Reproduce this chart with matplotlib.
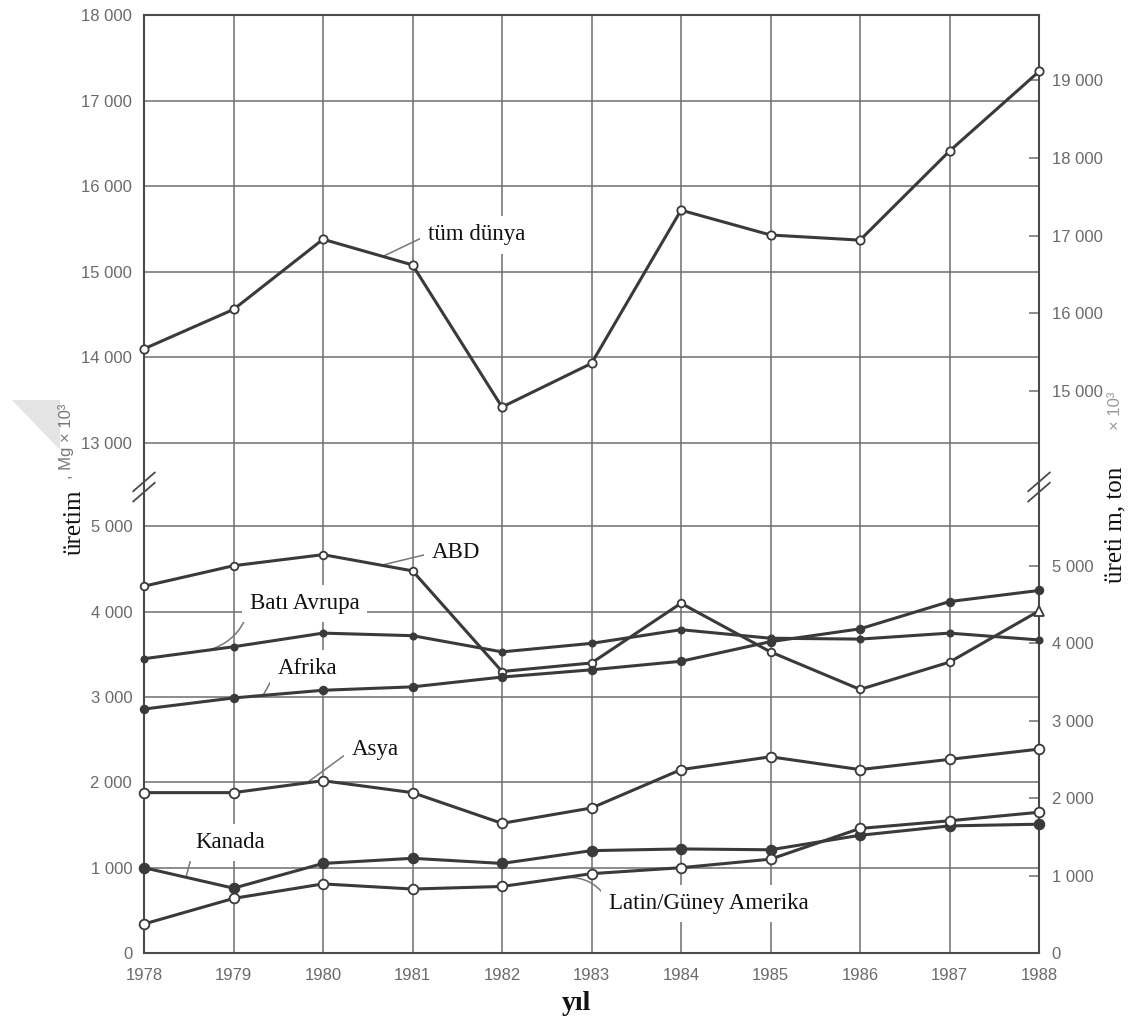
import numpy as np
import matplotlib
matplotlib.use("Agg")
import matplotlib.pyplot as plt
from matplotlib.patches import Polygon

# production, Mg x 10^3
years = np.arange(1978, 1989)
world = [14100, 14560, 15380, 15080, 13420, 13930, 15720, 15430, 15370, 16410, 17340]
usa = [4300, 4540, 4670, 4480, 3300, 3400, 4100, 3530, 3090, 3410, 4010]
w_europe = [3450, 3590, 3750, 3720, 3530, 3630, 3790, 3690, 3680, 3750, 3670]
africa = [2860, 2990, 3080, 3120, 3235, 3320, 3420, 3650, 3800, 4120, 4250]
asia = [1880, 1880, 2020, 1880, 1520, 1700, 2150, 2300, 2150, 2270, 2390]
canada = [1000, 760, 1050, 1110, 1050, 1200, 1220, 1210, 1380, 1490, 1510]
latin = [340, 640, 810, 750, 780, 930, 1000, 1100, 1460, 1550, 1650]

left_top_ticks = [13000, 14000, 15000, 16000, 17000, 18000]
left_bot_ticks = [0, 1000, 2000, 3000, 4000, 5000]
right_top_ticks = [15000, 16000, 17000, 18000, 19000]
right_bot_ticks = [0, 1000, 2000, 3000, 4000, 5000]
MG_TO_TON = 1.10231

SANS = ['Liberation Sans Narrow', 'Liberation Sans', 'DejaVu Sans']
SERIF = ['Liberation Serif', 'DejaVu Serif']
LINE = '#3a3a3a'
GRID = '#6e6e6e'
TICKC = '#6a6a6a'

W, H = 1129, 1029
fig = plt.figure(figsize=(W / 100, H / 100), dpi=100)
fig.patch.set_facecolor('white')
L, R = 144 / W, 1039 / W
ax_top = fig.add_axes([L, 1 - 487 / H, R - L, (487 - 15) / H])
ax_bot = fig.add_axes([L, 1 - 953 / H, R - L, (953 - 487) / H])
ax_top.set_ylim(12486, 18000)
ax_bot.set_ylim(0, 5463)


def fmt(v):
    return f"{int(round(v)):,}".replace(",", " ")


for ax, lt, rt in [(ax_top, left_top_ticks, right_top_ticks),
                   (ax_bot, left_bot_ticks, right_bot_ticks)]:
    ax.set_xlim(1978, 1988)
    ax.set_xticks(years)
    ax.set_yticks(lt)
    ax.set_yticklabels([fmt(v) for v in lt], family=SANS, fontsize=12, color=TICKC)
    ax.grid(True, color=GRID, lw=1.1)
    ax.set_axisbelow(True)
    ax.tick_params(axis='y', length=0, pad=8.5)
    ax.tick_params(axis='x', length=0, pad=11)
    for s in ax.spines.values():
        s.set_color('#4a4a4a')
        s.set_linewidth(1.5)
    sec = ax.secondary_yaxis('right', functions=(lambda v: v * MG_TO_TON,
                                                 lambda v: v / MG_TO_TON))
    sec.set_yticks(rt)
    sec.set_yticklabels([fmt(v) for v in rt], family=SANS, fontsize=12, color=TICKC)
    sec.tick_params(direction='in', length=7, width=1.1, color=GRID, pad=9)
    sec.spines['right'].set_visible(False)

ax_top.spines['bottom'].set_visible(False)
ax_bot.spines['top'].set_visible(False)
ax_top.tick_params(axis='x', labelbottom=False)
ax_bot.set_xticklabels([str(y) for y in years], family=SANS, fontsize=12, color=TICKC)


def series(ax, vals, marker, ms, filled, last_marker=None):
    kw = dict(color=LINE, lw=2.2, marker=marker, ms=ms, mec=LINE, mew=1.3,
              mfc=LINE if filled else 'white', clip_on=False, zorder=5)
    if last_marker:
        ax.plot(years, vals, markevery=list(range(len(years) - 1)), **kw)
        kw.update(marker=last_marker, ms=ms + 1.5, lw=0)
        ax.plot(years[-1:], vals[-1:], **kw)
    else:
        ax.plot(years, vals, **kw)


series(ax_top, world, 'o', 6, False)
series(ax_bot, usa, 'o', 5.5, False, last_marker='^')
series(ax_bot, w_europe, 'o', 4.5, True)
series(ax_bot, africa, 'o', 5.5, True)
series(ax_bot, asia, 'o', 7, False)
series(ax_bot, canada, 'o', 7, True)
series(ax_bot, latin, 'o', 7, False)

# labels with leader lines
box = dict(boxstyle='square,pad=0.35', fc='white', ec='none')
notes = [
    (ax_top, 'tüm dünya', (1980.67, 15180), (1981.17, 15430), 'arc3,rad=0'),
    (ax_bot, 'ABD', (1980.65, 4545), (1981.22, 4690), 'arc3,rad=0'),
    (ax_bot, 'Batı Avrupa', (1978.74, 3555), (1979.18, 4100), 'arc3,rad=-0.3'),
    (ax_bot, 'Afrika', (1979.33, 3020), (1979.5, 3340), 'arc3,rad=0'),
    (ax_bot, 'Asya', (1979.82, 1995), (1980.32, 2380), 'arc3,rad=0'),
    (ax_bot, 'Kanada', (1978.47, 890), (1978.57, 1290), 'arc3,rad=0'),
    (ax_bot, 'Latin/Güney Amerika', (1982.67, 880), (1983.2, 580), 'arc3,rad=0.35'),
]
for ax, txt, xy, xyt, cs in notes:
    ax.annotate(txt, xy=xy, xytext=xyt, ha='left', va='center',
                family=SERIF, fontsize=16.5, color='#111111', bbox=box, zorder=3,
                arrowprops=dict(arrowstyle='-', color='#777777', lw=1.1,
                                relpos=(0, 0.5), shrinkA=0, shrinkB=0,
                                connectionstyle=cs))

# break marks on both spines
for xa in (0, 1):
    for off in (-0.011, 0.011):
        ax_bot.plot([xa - 0.012, xa + 0.012], [1 + off - 0.02, 1 + off + 0.02],
                    transform=ax_bot.transAxes, color='#4a4a4a', lw=1.3,
                    clip_on=False, zorder=6)

# axis titles
fig.text(75 / W, 1 - 522 / H, 'üretim', rotation=90, ha='center', va='center',
         family=SERIF, fontsize=18, color='#111111')
fig.text(66 / W, 1 - 441 / H, ', Mg × 10³', rotation=90, ha='center', va='center',
         family=SANS, fontsize=12, color='#777777')
fig.text(1115 / W, 1 - 525 / H, 'üreti m, ton', rotation=90, ha='center', va='center',
         family=SERIF, fontsize=18, color='#111111')
fig.text(1116 / W, 1 - 411 / H, '× 10³', rotation=90, ha='center', va='center',
         family=SANS, fontsize=12, color='#999999')
fig.text(576 / W, 1 - 1004 / H, 'yıl', ha='center', va='center',
         family=SERIF, fontsize=20, fontweight='bold', color='#111111')

# faint scan watermark at the left edge
fig.patches.append(Polygon([(12 / W, 1 - 400 / H), (60 / W, 1 - 400 / H),
                            (60 / W, 1 - 450 / H)], closed=True,
                           transform=fig.transFigure, fc='#e4e4e4', ec='none',
                           zorder=0))

fig.savefig('out.png', dpi=100)
